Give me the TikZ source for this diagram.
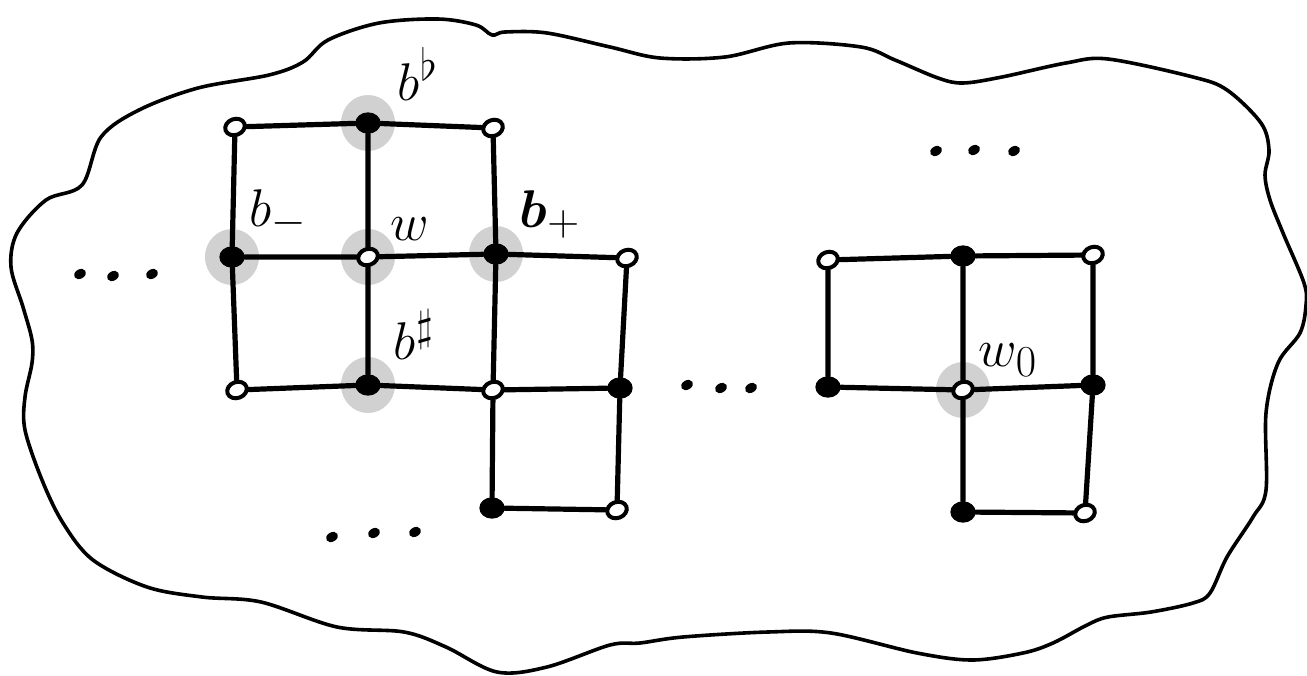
\documentclass[tikz,border=0pt]{standalone}
\usepackage{bm}
\usetikzlibrary{shapes.geometric}
\pgfdeclarelayer{halo}
\pgfdeclarelayer{edges}
\pgfsetlayers{halo,edges,main}
\newcommand{\biglbl}[1]{\scalebox{1.6}{\Huge #1}}
\begin{document}
\begin{tikzpicture}[x=0.75pt,y=-0.75pt,
  wv/.style={ellipse,draw=black,fill=white,line width=3pt,minimum width=15pt,minimum height=12pt,inner sep=0pt,rotate=20},
  bv/.style={ellipse,fill=black,minimum width=19pt,minimum height=16pt,inner sep=0pt},
  edge/.style={line width=3.9pt,line cap=round},
  halofill/.style={fill=black!18},
  cloud/.style={line width=2.7pt,line join=round},
  lbl/.style={inner sep=0pt},
  dotnode/.style={ellipse,fill=black,minimum width=9.5pt,minimum height=7pt,inner sep=0pt,rotate=30}]
\useasboundingbox (0,0) rectangle (1307,675);

% cloud outline
\draw[cloud] plot[smooth cycle,tension=0.55] coordinates {
 (32,340) (23,307) (11,267) (17,233) (46,200) (82,185) (101,137) (139,110)
 (198,88) (269,75) (303,62) (328,40) (379,23) (438,19) (476,25) (492,35)
 (505,32) (547,33) (610,47) (660,58) (725,57) (789,43) (861,47) (895,60)
 (938,78) (963,83) (1002,77) (1066,63) (1108,59) (1193,77) (1227,90)
 (1261,123) (1269,150) (1265,175) (1270,200) (1283,233) (1304,283) (1306,305)
 (1300,333) (1278,363) (1266,413) (1266,490) (1253,517) (1227,557) (1210,593)
 (1193,603) (1151,612) (1108,617) (1087,625) (1053,643) (1023,653) (972,660)
 (917,653) (831,633) (768,632) (683,637) (640,643) (610,645) (547,667)
 (497,672) (446,647) (404,632) (337,627) (261,602) (202,597) (147,587)
 (93,560) (63,523) (42,480) (25,430) (25,397) (32,363)};

% vertices, left cluster
\node[wv] (a1) at (235,127) {};
\node[bv] (a2) at (368,123) {};
\node[wv] (a3) at (493,128) {};
\node[bv] (c1) at (232,257) {};
\node[wv] (c2) at (368,257) {};
\node[bv] (c3) at (496,254) {};
\node[wv] (c4) at (627,258) {};
\node[wv] (d1) at (237,390) {};
\node[bv] (d2) at (368,385) {};
\node[wv] (d3) at (493,390) {};
\node[bv] (d4) at (620,388) {};
\node[bv] (e3) at (492,508) {};
\node[wv] (e4) at (617,510) {};
% vertices, right cluster
\node[wv] (r1) at (828,260) {};
\node[bv] (r2) at (963,256) {};
\node[wv] (r3) at (1093,255) {};
\node[bv] (s1) at (828,387) {};
\node[wv] (s2) at (963,390) {};
\node[bv] (s3) at (1093,385) {};
\node[bv] (t2) at (963,512) {};
\node[wv] (t3) at (1085,513) {};

% halos
\begin{pgfonlayer}{halo}
\foreach \n in {a2,c1,c2,c3,d2,s2}
  \fill[halofill] (\n.center) ellipse [x radius=27, y radius=28];
\end{pgfonlayer}

% edges
\begin{pgfonlayer}{edges}
\draw[edge] (a1) -- (a2) -- (a3);
\draw[edge] (c1) -- (c2) -- (c3) -- (c4);
\draw[edge] (d1) -- (d2) -- (d3) -- (d4);
\draw[edge] (e3) -- (e4);
\draw[edge] (a1) -- (c1) -- (d1);
\draw[edge] (a2) -- (c2) -- (d2);
\draw[edge] (a3) -- (c3) -- (d3) -- (e3);
\draw[edge] (c4) -- (d4) -- (e4);
\draw[edge] (r1) -- (r2) -- (r3);
\draw[edge] (s1) -- (s2) -- (s3);
\draw[edge] (t2) -- (t3);
\draw[edge] (r1) -- (s1);
\draw[edge] (r2) -- (s2) -- (t2);
\draw[edge] (r3) -- (s3) -- (t3);
\end{pgfonlayer}

% labels
\node[lbl] (lbflat) at (418,74) {\biglbl{$b^{\flat}$}};
\node[lbl] (lbminus) at (278,214) {\biglbl{$b_{-}$}};
\node[lbl] (lw) at (410,229) {\biglbl{$w$}};
\node[lbl] (lbplus) at (550,214) {\biglbl{$\bm{b}_{+}$}};
\node[lbl] (lbsharp) at (414,335) {\biglbl{$b^{\sharp}$}};
\node[lbl] (lw0) at (1008,360) {\biglbl{$w_0$}};

% ellipsis dots
\foreach \x/\y [count=\i] in {80/274,113/276,152/274, 936/151,974/150,1014/151,
                   687/385,721/388,751/388, 332/537,374/533,415/532}
  \node[dotnode] (dot\i) at (\x,\y) {};
\end{tikzpicture}
\end{document}
